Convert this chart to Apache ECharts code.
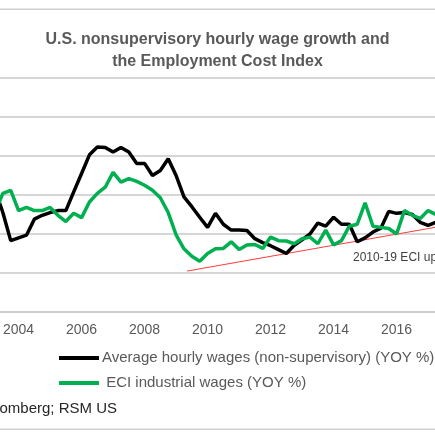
<!DOCTYPE html>
<html>
<head>
<meta charset="utf-8">
<script src="https://cdn.jsdelivr.net/npm/echarts@6/dist/echarts.min.js"></script>
<style>
html,body{margin:0;padding:0;background:#fff;}
#containerWage{width:435px;height:435px;}
</style>
</head>
<body>
<div id="containerWage"></div>
<script>
/*
 * U.S. nonsupervisory hourly wage growth and the Employment Cost Index
 * quarterly YOY %, 2003Q1 - 2017Q1
 * */
var quarters = [
    '2003Q1','2003Q2','2003Q3','2003Q4',
    '2004Q1','2004Q2','2004Q3','2004Q4',
    '2005Q1','2005Q2','2005Q3','2005Q4',
    '2006Q1','2006Q2','2006Q3','2006Q4',
    '2007Q1','2007Q2','2007Q3','2007Q4',
    '2008Q1','2008Q2','2008Q3','2008Q4',
    '2009Q1','2009Q2','2009Q3','2009Q4',
    '2010Q1','2010Q2','2010Q3','2010Q4',
    '2011Q1','2011Q2','2011Q3','2011Q4',
    '2012Q1','2012Q2','2012Q3','2012Q4',
    '2013Q1','2013Q2','2013Q3','2013Q4',
    '2014Q1','2014Q2','2014Q3','2014Q4',
    '2015Q1','2015Q2','2015Q3','2015Q4',
    '2016Q1','2016Q2','2016Q3','2016Q4',
    '2017Q1'
];
var hourlyWages = [
    3.15, 2.55, 1.83, 1.9,
    1.97, 2.38, 2.48, 2.55,
    2.6, 2.6, 3.08, 3.55,
    4.03, 4.23, 4.22, 4.1,
    4.22, 4.1, 3.81, 3.81,
    3.5, 3.63, 3.93, 3.5,
    2.95, 2.7, 2.43, 2.17,
    2.53, 2.25, 2.1, 2.1,
    2.09, 1.88, 1.78, 1.7,
    1.6, 1.5, 1.71, 1.85,
    2.0, 2.28, 2.2, 2.43,
    2.25, 2.25, 1.8, 1.9,
    2.05, 2.15, 2.58, 2.53,
    2.55, 2.5, 2.3, 2.22,
    2.3
];
var eciWages = [
    2.55, 3.04, 3.12, 2.6,
    2.68, 2.6, 2.6, 2.68,
    2.48, 2.32, 2.53, 2.42,
    2.82, 3.04, 3.2, 3.58,
    3.33, 3.42, 3.35, 3.25,
    3.12, 2.93, 2.55, 1.98,
    1.62, 1.43, 1.3, 1.5,
    1.62, 1.63, 1.8, 1.6,
    1.72, 1.73, 1.63, 1.92,
    1.83, 1.82, 1.75, 1.88,
    1.92, 1.75, 2.1, 1.72,
    1.83, 2.2, 2.25, 2.8,
    2.2, 2.17, 2.14, 2.0,
    2.6, 2.48, 2.4, 2.6,
    2.5
];
// 2010-19 ECI trend line (start / end)
var trendYears = [2009.35, 2019.75];
var trendValues = [1.05, 2.53];
// visible part of the time axis (chart is cropped on both sides)
var yearRange = [2003.41, 2017.22];
var yearTicks = [2004, 2006, 2008, 2010, 2012, 2014, 2016];
var valueTicks = [0, 1, 2, 3, 4, 5, 6];

var seriesNames = ['Average hourly wages (non-supervisory) (YOY %)', ' ECI industrial wages (YOY %)'];

function quarterToYear(q) {
    return Number(q.slice(0, 4)) + Number(q.slice(5)) * 0.25;
}
function pairs(xs, ys) {
    var out = [];
    for (var i = 0; i < xs.length; i++) {
        out.push([xs[i], ys[i]]);
    }
    return out;
}
var qYears = quarters.map(quarterToYear);

var dom = document.getElementById("containerWage");
var myChart = echarts.init(dom);
var option = null;
option = {
    animation: false,
    textStyle: {fontFamily: 'Liberation Sans, Arial, sans-serif'},
    title: {
        text: 'U.S. nonsupervisory hourly wage growth and\nthe Employment Cost Index',
        left: 'center',
        top: 24,
        textStyle: {
            color: '#595959',
            fontSize: 16,
            fontWeight: 'bold',
            lineHeight: 22
        }
    },
    legend: {
        orient: 'vertical',
        left: 54,
        top: 344,
        icon: 'rect',
        itemWidth: 40,
        itemHeight: 4,
        itemGap: 7,
        data: seriesNames,
        textStyle: {color: '#595959', fontSize: 15, lineHeight: 18, padding: [0, 0, 0, -2]}
    },
    grid: {
        left: 0,
        right: 0,
        top: 78,
        bottom: 123,
        containLabel: false
    },
    xAxis: {
        type: 'value',
        min: yearRange[0],
        max: yearRange[1],
        axisLine: {lineStyle: {color: '#c8c8c8', width: 1.5}},
        axisTick: {show: false},
        splitLine: {show: false},
        axisLabel: {
            color: '#595959',
            fontSize: 14,
            margin: 11,
            customValues: yearTicks,
            formatter: function (v) { return String(v); }
        }
    },
    yAxis: {
        type: 'value',
        min: valueTicks[0],
        max: valueTicks[valueTicks.length - 1],
        interval: 1,
        axisLine: {show: false},
        axisTick: {show: false},
        axisLabel: {show: false},
        splitLine: {show: true, lineStyle: {color: '#c8c8c8', width: 1.5}}
    },
    graphic: [
        {type: 'rect', shape: {x: 0, y: 8.5, width: 435, height: 1.5}, style: {fill: '#d0d0d0'}},
        {type: 'rect', shape: {x: 0, y: 428.5, width: 435, height: 1.5}, style: {fill: '#d0d0d0'}},
        {type: 'text', left: 353, top: 252, style: {text: '2010-19 ECI uptrend', fill: '#404040', fontSize: 12, fontFamily: 'Liberation Sans, Arial, sans-serif'}},
        {type: 'text', right: 318, top: 401, style: {text: 'Source: Bloomberg; RSM US', fill: '#262626', fontSize: 15, fontFamily: 'Liberation Sans, Arial, sans-serif'}}
    ],
    series: [
        {
            name: seriesNames[0],
            type: 'line',
            symbol: 'none',
            z: 3,
            color: '#000000',
            lineStyle: {width: 3.5, color: '#000000'},
            data: pairs(qYears, hourlyWages)
        },
        {
            name: seriesNames[1],
            type: 'line',
            symbol: 'none',
            z: 4,
            color: '#00b050',
            lineStyle: {width: 3.5, color: '#00b050'},
            data: pairs(qYears, eciWages)
        },
        {
            name: 'trend',
            type: 'line',
            symbol: 'none',
            z: 2,
            lineStyle: {width: 1, color: '#ff3b3b'},
            data: pairs(trendYears, trendValues)
        }
    ]
};
if (option && typeof option === "object") {
    myChart.setOption(option);
}
</script>
</body>
</html>
